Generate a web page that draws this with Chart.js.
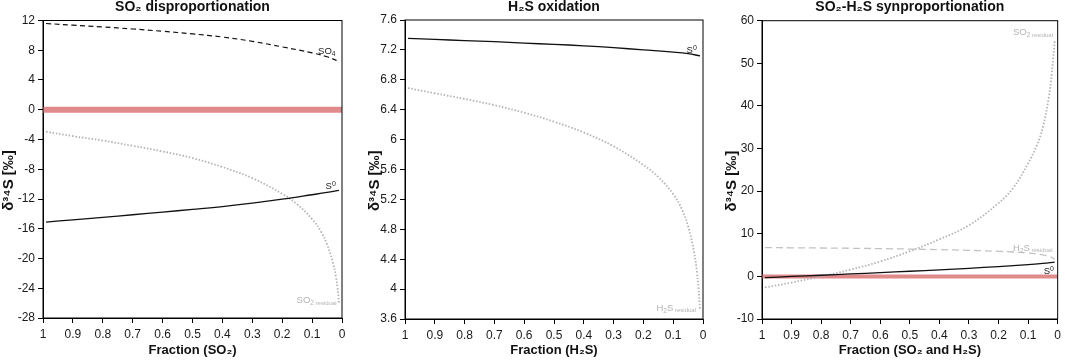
<!DOCTYPE html>
<html>
<head>
<meta charset="utf-8">
<script src="https://cdn.jsdelivr.net/npm/chart.js@4.4.0/dist/chart.umd.min.js"></script>
<style>
  body { margin: 0; background: #fff; width: 1065px; height: 361px; overflow: hidden; position: relative; }
  canvas { position: absolute; top: 0; }
</style>
</head>
<body>
<canvas id="c1" width="355" height="361" style="left:0px"></canvas>
<canvas id="c2" width="349" height="361" style="left:366px"></canvas>
<canvas id="c3" width="342" height="361" style="left:723px"></canvas>
<script>
// fractions remaining (x axis, read 1 -> 0)
const frac      = [0.99, 0.9, 0.8, 0.7, 0.6, 0.5, 0.4, 0.3, 0.2, 0.1, 0.05, 0.01];
const fracResid = [0.99, 0.9, 0.8, 0.7, 0.6, 0.5, 0.4, 0.3, 0.2, 0.15, 0.1, 0.07, 0.05, 0.03, 0.02, 0.015, 0.01];
const fracZero  = [1, 0];
const zeroLine  = [0, 0];

// SO2 disproportionation
const so4_dispro      = [11.6, 11.37, 11.13, 10.86, 10.55, 10.2, 9.78, 9.2, 8.45, 7.65, 7.12, 6.5];
const s0_dispro       = [-15.1, -14.8, -14.46, -14.12, -13.76, -13.4, -13.02, -12.56, -12.03, -11.43, -11.12, -10.84];
const so2Resid_dispro = [-2.95, -3.55, -4.15, -4.85, -5.6, -6.5, -7.7, -9.2, -11.3, -12.7, -14.7, -16.4, -18.1, -20.6, -22.5, -23.9, -26.0];

// H2S oxidation
const s0_oxid       = [7.355, 7.34, 7.325, 7.31, 7.29, 7.275, 7.255, 7.23, 7.2, 7.17, 7.15, 7.12];
const h2sResid_oxid = [6.69, 6.62, 6.545, 6.46, 6.36, 6.24, 6.095, 5.91, 5.66, 5.5, 5.27, 5.06, 4.84, 4.5, 4.22, 4.02, 3.72];

// SO2-H2S synproportionation
const s0_synpro       = [-0.3, -0.02, 0.27, 0.57, 0.88, 1.2, 1.54, 1.9, 2.3, 2.76, 3.06, 3.36];
const h2sResid_synpro = [6.75, 6.71, 6.66, 6.6, 6.52, 6.41, 6.28, 6.11, 5.88, 5.72, 5.48, 5.25, 5.03, 4.7, 4.45, 4.27, 4.0];
const so2Resid_synpro = [-2.6, -1.45, 0.0, 1.6, 3.5, 5.9, 8.7, 12.0, 17.2, 20.8, 26.5, 30.8, 35.0, 42.0, 47.5, 51.2, 55.3];

const FONT = "'Liberation Sans', Arial, Helvetica, sans-serif";
const GREY = '#b3b3b3';

const pts = (xs, ys) => xs.map((x, i) => ({ x: x, y: ys[i] }));
const fmt = v => String(Math.round(v * 10) / 10);

const solid      = { borderColor: '#111', borderWidth: 1.3 };
const dotted     = { borderColor: GREY, borderWidth: 1.8, borderDash: [1.5, 1.8] };
const dashBlack  = { borderColor: '#111', borderWidth: 1.2, borderDash: [5, 3.5] };
const dashGrey   = { borderColor: '#c2c2c2', borderWidth: 1.3, borderDash: [7, 4] };
const redBand = w => ({ borderColor: '#e08a8c', borderWidth: w, order: 10 });

function line(xs, ys, style) {
    // distance-weighted spline copes better with the uneven fraction steps than 'monotone'
    return Object.assign({ data: pts(xs, ys), pointRadius: 0, fill: false, tension: 0.4, order: 1 }, style);
}

// text with sub/superscripts, parts = [text, size, dy]
function richText(ctx, x, y, parts, color) {
    ctx.save();
    ctx.fillStyle = color;
    ctx.textAlign = 'left';
    ctx.textBaseline = 'alphabetic';
    let cx = x;
    parts.forEach(([t, size, dy]) => {
        ctx.font = size + 'px ' + FONT;
        ctx.fillText(t, cx, y + dy);
        cx += ctx.measureText(t).width;
    });
    ctx.restore();
}

function labelPlugin(items) {
    return {
        id: 'curveLabels',
        afterDatasetsDraw(chart) {
            const { ctx, scales: { x, y } } = chart;
            items.forEach(it => richText(ctx, x.getPixelForValue(it.at[0]), y.getPixelForValue(it.at[1]), it.parts, it.color));
        }
    };
}

const framePlugin = {
    id: 'frame',
    afterDraw(chart) {
        const { ctx, chartArea: { left, top, right, bottom } } = chart;
        ctx.save();
        ctx.strokeStyle = '#000';
        ctx.lineWidth = 1;
        ctx.strokeRect(left, top, right - left, bottom - top);
        ctx.restore();
    }
};

function makePanel(id, cfg) {
    return new Chart(document.getElementById(id), {
        type: 'line',
        data: { datasets: cfg.datasets },
        plugins: [framePlugin, labelPlugin(cfg.labels)],
        options: {
            responsive: false,
            animation: false,
            devicePixelRatio: 1,
            layout: { padding: { left: 0, right: cfg.padRight, top: 0, bottom: 0 } },
            plugins: {
                legend: { display: false },
                tooltip: { enabled: false },
                title: {
                    display: true, text: cfg.title, fullSize: false, color: '#111',
                    font: { family: FONT, size: 14, weight: 'bold', lineHeight: 1 },
                    padding: { top: 0, bottom: cfg.titleGap }
                }
            },
            scales: {
                x: {
                    type: 'linear', reverse: true, min: 0, max: 1,
                    afterFit: s => { s.height = cfg.xHeight; },
                    grid: { drawOnChartArea: false, drawTicks: true, tickLength: 5, color: '#000' },
                    border: { color: '#000', width: 1 },
                    ticks: { stepSize: 0.1, autoSkip: false, maxRotation: 0, padding: 4, color: '#1a1a1a',
                             font: { family: FONT, size: 12 }, callback: fmt },
                    title: { display: true, text: cfg.xTitle, color: '#111',
                             font: { family: FONT, size: 13, weight: 'bold' }, padding: { top: 0, bottom: 3 } }
                },
                y: {
                    min: cfg.yMin, max: cfg.yMax,
                    afterFit: s => { s.width = cfg.yWidth; },
                    grid: { drawOnChartArea: false, drawTicks: true, tickLength: 5, color: '#000' },
                    border: { color: '#000', width: 1 },
                    ticks: { stepSize: cfg.yStep, autoSkip: false, padding: 3, color: '#1a1a1a',
                             font: { family: FONT, size: 12 }, callback: fmt },
                    // trailing spaces push the rotated title a little lower, as in the original
                    title: { display: true, text: 'δ³⁴S [‰]\u2003\u2002', color: '#111',
                             font: { family: FONT, size: 15, weight: 'bold' }, padding: { top: 0, bottom: 0 } }
                }
            }
        }
    });
}

makePanel('c1', {
    title: 'SO₂ disproportionation', xTitle: 'Fraction (SO₂)',
    yMin: -28, yMax: 12, yStep: 4, yWidth: 43, xHeight: 43, padRight: 13, titleGap: 6.5,
    datasets: [
        line(frac, so4_dispro, dashBlack),
        line(frac, s0_dispro, solid),
        line(fracResid, so2Resid_dispro, dotted),
        Object.assign({ data: pts(fracZero, zeroLine), pointRadius: 0, fill: false }, redBand(6))
    ],
    labels: [
        { at: [0.080, 7.5],   color: '#222', parts: [['SO', 9.5, 0], ['4', 6.5, 2]] },
        { at: [0.055, -10.6], color: '#222', parts: [['S', 9.5, 0], ['0', 7, -3]] },
        { at: [0.152, -26.0], color: GREY,   parts: [['SO', 9.5, 0], ['2', 6.5, 2], [' residual', 6, 2]] }
    ]
});

makePanel('c2', {
    title: 'H₂S oxidation', xTitle: 'Fraction (H₂S)',
    yMin: 3.6, yMax: 7.6, yStep: 0.4, yWidth: 39, xHeight: 42, padRight: 12, titleGap: 6,
    datasets: [
        line(frac, s0_oxid, solid),
        line(fracResid, h2sResid_oxid, dotted)
    ],
    labels: [
        { at: [0.055, 7.163], color: '#222', parts: [['S', 9.5, 0], ['0', 7, -3]] },
        { at: [0.156, 3.71],  color: GREY,   parts: [['H', 9.5, 0], ['2', 6.5, 2], ['S', 9.5, 0], [' residual', 6, 1.5]] }
    ]
});

makePanel('c3', {
    title: 'SO₂-H₂S synproportionation', xTitle: 'Fraction (SO₂ and H₂S)',
    yMin: -10, yMax: 60, yStep: 10, yWidth: 39, xHeight: 42, padRight: 5, titleGap: 6.7,
    datasets: [
        line(frac, s0_synpro, Object.assign({ order: 0 }, solid)),
        line(fracResid, h2sResid_synpro, dashGrey),
        line(fracResid, so2Resid_synpro, dotted),
        Object.assign({ data: pts(fracZero, zeroLine), pointRadius: 0, fill: false }, redBand(4))
    ],
    labels: [
        { at: [0.151, 56.6], color: GREY,   parts: [['SO', 9.5, 0], ['2', 6.5, 2], [' residual', 6, 2]] },
        { at: [0.151, 6.06], color: GREY,   parts: [['H', 9.5, 0], ['2', 6.5, 2], ['S', 9.5, 0], [' residual', 6, 1.5]] },
        { at: [0.047, 0.66], color: '#222', parts: [['S', 9.5, 0], ['0', 7, -3]] }
    ]
});
</script>
</body>
</html>
